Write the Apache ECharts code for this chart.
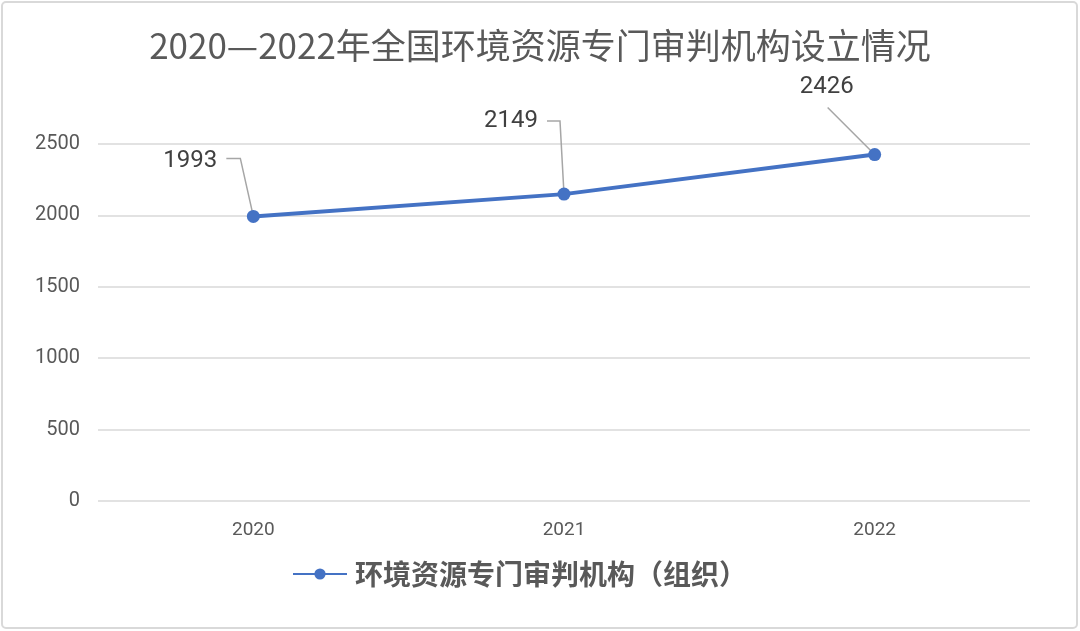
<!DOCTYPE html>
<html><head><meta charset="utf-8">
<script src="https://cdn.jsdelivr.net/npm/echarts@6/dist/echarts.min.js"></script>
<style>html,body{margin:0;padding:0;background:#fff}#c{width:1080px;height:631px}</style>
</head><body><div id="c"></div>
<script>
const categories = ['2020', '2021', '2022'];
const seriesName = '环境资源专门审判机构（组织）';
const values = [1993, 2149, 2426];
const yTicks = [0, 500, 1000, 1500, 2000, 2500];
const titleText = '2020—2022年全国环境资源专门审判机构设立情况';

// callout styling (pixel offsets relative to each point): label centre, leader polyline
const calloutText = [[-63, -55], [-53, -73], [-48, -68]];
const calloutLine = [
  [[-27, -58], [-13, -58], [0, 0]],
  [[-17, -73], [-4, -73], [0, 0]],
  [[-47, -47], [0, 0]]
];

const chart = echarts.init(document.getElementById('c'));
chart.setOption({
  backgroundColor: '#fff',
  graphic: [{type: 'rect', shape: {x: 2, y: 2, width: 1075, height: 626, r: 4}, style: {fill: 'none', stroke: '#d9d9d9', lineWidth: 2}, silent: true}],
  title: {text: titleText, left: 'center', top: 23, textStyle: {fontFamily: 'Noto Sans CJK SC', fontSize: 35, fontWeight: 'normal', color: '#595959'}},
  legend: {data: [seriesName], bottom: 38, left: 287, itemWidth: 54, itemHeight: 14, itemGap: 10,
    textStyle: {fontFamily: 'Noto Sans CJK SC', fontSize: 28, fontWeight: 'bold', color: '#595959', padding: [0, 0, 0, 3]}},
  grid: {left: 98, right: 50, top: 144, bottom: 130},
  xAxis: {type: 'category', data: categories, boundaryGap: true,
    axisLine: {show: false}, axisTick: {show: false},
    axisLabel: {color: '#595959', fontFamily: 'Roboto', fontSize: 19, margin: 20}},
  yAxis: {type: 'value', min: yTicks[0], max: yTicks[yTicks.length - 1], interval: 500,
    axisLine: {show: false}, axisTick: {show: false},
    axisLabel: {color: '#595959', fontFamily: 'Roboto', fontSize: 20, margin: 18, formatter: v => String(v)},
    splitLine: {lineStyle: {color: '#d9d9d9', width: 1.5}}},
  series: [{
    name: seriesName, type: 'line', data: values,
    symbol: 'circle', symbolSize: 13, z: 3,
    lineStyle: {color: '#4472C4', width: 4}, itemStyle: {color: '#4472C4'}
  }, {
    name: 'callout', type: 'custom', data: values.map((v, i) => [i, v]), z: 2, silent: true,
    encode: {x: 0, y: 1},
    renderItem: function (params, api) {
      const i = params.dataIndex;
      const p = api.coord([api.value(0), api.value(1)]);
      const pts = calloutLine[i].map(o => [p[0] + o[0], p[1] + o[1]]);
      const t = calloutText[i];
      return {type: 'group', children: [
        {type: 'polyline', shape: {points: pts}, style: {stroke: '#a6a6a6', lineWidth: 1.5, fill: 'none'}},
        {type: 'text', x: p[0] + t[0], y: p[1] + t[1], style: {text: String(api.value(1)), fill: '#404040', font: '24px Roboto', align: 'center', verticalAlign: 'middle'}}
      ]};
    }
  }]
});
</script></body></html>
